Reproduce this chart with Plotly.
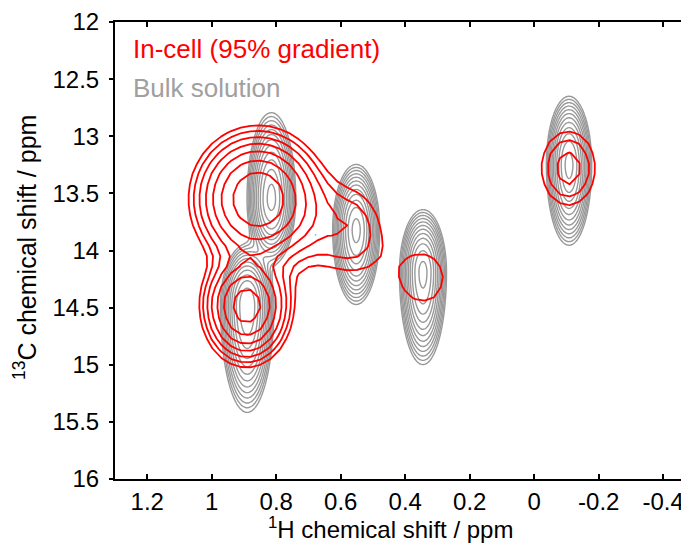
import numpy as np
import plotly.graph_objects as go

# ---- Bulk solution peaks (grey): 1H shift, 13C shift, widths, heights ----
bulk_h = [0.815, 0.890, 0.552, 0.345, -0.108, 0.678]
bulk_c = [13.55, 14.48, 13.82, 14.19, 13.25, 13.86]
bulk_width_h = [0.029, 0.031, 0.028, 0.028, 0.027, 0.008]
bulk_width_c_up = [0.29, 0.20, 0.22, 0.21, 0.23, 0.012]
bulk_width_c_down = [0.22, 0.35, 0.25, 0.31, 0.27, 0.012]
bulk_height = [30.0, 36.0, 30.0, 30.0, 30.0, 1.1]

# ---- In-cell peaks (red) ----
cell_h = [0.857, 0.892, 0.560, 0.345, -0.106, 0.680]
cell_c = [13.55, 14.48, 13.83, 14.24, 13.28, 13.85]
cell_width_h = [0.10, 0.07, 0.0735, 0.086, 0.065, 0.07]
cell_width_c_up = [0.30, 0.22, 0.30, 0.28, 0.25, 0.30]
cell_width_c_down = [0.30, 0.26, 0.30, 0.28, 0.25, 0.30]
cell_height = [10.2, 9.0, 1.66, 1.3, 2.3, 0.6]

# contour levels: base * factor**k
bulk_levels = dict(base=1.0, factor=1.35, count=14)
cell_levels = dict(base=1.0, factor=1.4, count=9)

x_ticks = [1.2, 1.0, 0.8, 0.6, 0.4, 0.2, 0.0, -0.2, -0.4]
x_tick_text = ["1.2", "1", "0.8", "0.6", "0.4", "0.2", "0", "-0.2", "-0.4"]
y_ticks = [12, 12.5, 13, 13.5, 14, 14.5, 15, 15.5, 16]
y_tick_text = ["12", "12.5", "13", "13.5", "14", "14.5", "15", "15.5", "16"]

legend_labels = ["In-cell (95% gradient)", "Bulk solution"]
x_title = "<sup>1</sup>H chemical shift / ppm"
y_title = "<sup>13</sup>C chemical shift / ppm"
RED = "#ff0000"
GREY = "#999999"


def spectrum(hs, cs, wh, wcu, wcd, amps, dx, dy):
    x = np.arange(-0.56, 1.40, dx)
    y = np.arange(11.8, 16.2, dy)
    X, Y = np.meshgrid(x, y)
    Z = np.zeros_like(X)
    for h0, c0, sh, su, sd, a in zip(hs, cs, wh, wcu, wcd, amps):
        sc = np.where(Y < c0, su, sd)
        Z += a * np.exp(-((X - h0) ** 2) / (2 * sh ** 2) - ((Y - c0) ** 2) / (2 * sc ** 2))
    return x, y, np.log(Z + 1e-12)


bx, by, bz = spectrum(bulk_h, bulk_c, bulk_width_h, bulk_width_c_up,
                      bulk_width_c_down, bulk_height, 0.004, 0.012)
cx, cy, cz = spectrum(cell_h, cell_c, cell_width_h, cell_width_c_up,
                      cell_width_c_down, cell_height, 0.03, 0.09)


def contour_trace(x, y, z, lv, color, width, smooth):
    step = np.log(lv["factor"])
    start = np.log(lv["base"])
    return go.Contour(
        x=x, y=y, z=z,
        contours=dict(start=start, end=start + step * (lv["count"] - 1),
                      size=step, coloring="none"),
        line=dict(color=color, width=width, smoothing=smooth),
        showscale=False, hoverinfo="skip", showlegend=False,
    )


fig = go.Figure()
fig.add_trace(contour_trace(bx, by, bz, bulk_levels, GREY, 1.4, 1.0))
fig.add_trace(contour_trace(cx, cy, cz, cell_levels, RED, 1.8, 0))

FONT = "Liberation Sans, Arial, Helvetica, sans-serif"
# the page body has an 8px margin: figure coordinates = page coordinates - 8
OFF = 8
W, H = 689 - OFF, 551 - OFF
L, T = 115 - OFF, 22 - OFF
BOTTOM = 479 - OFF
B = H - BOTTOM
PW, PH = W - L, BOTTOM - T


def px_x(p):
    return (p - OFF - L) / PW


def px_y(p):
    return (BOTTOM - (p - OFF)) / PH


fig.update_layout(
    width=W, height=H,
    margin=dict(l=L, r=0, t=T, b=B, autoexpand=False),
    paper_bgcolor="white", plot_bgcolor="white",
    font=dict(family=FONT, size=24, color="black"),
    xaxis=dict(
        range=[1.3, -0.48], tickvals=x_ticks, ticktext=x_tick_text,
        ticks="inside", ticklen=5, tickwidth=1.5, tickcolor="black",
        showline=True, linewidth=2, linecolor="black", mirror="ticks",
        showgrid=False, zeroline=False, automargin=False,
        tickfont=dict(size=24),
    ),
    yaxis=dict(
        range=[16, 12], tickvals=y_ticks, ticktext=y_tick_text,
        ticks="outside", ticklen=4, tickwidth=1.5, tickcolor="black",
        showline=True, linewidth=2, linecolor="black", mirror=False,
        showgrid=False, zeroline=False, automargin=False,
        tickfont=dict(size=24), ticklabelstandoff=5,
    ),
    annotations=[
        dict(xref="paper", yref="paper", x=px_x(131), y=px_y(49),
             xanchor="left", yanchor="middle", showarrow=False,
             text=legend_labels[0], font=dict(size=26, color=RED)),
        dict(xref="paper", yref="paper", x=px_x(131), y=px_y(88),
             xanchor="left", yanchor="middle", showarrow=False,
             text=legend_labels[1], font=dict(size=26, color="#a0a0a0")),
        dict(xref="paper", yref="paper", x=px_x(390), y=px_y(528),
             xanchor="center", yanchor="middle", showarrow=False,
             text=x_title, font=dict(size=24, color="black")),
        dict(xref="paper", yref="paper", x=px_x(25), y=px_y(248),
             xanchor="center", yanchor="middle", showarrow=False, textangle=-90,
             text=y_title, font=dict(size=25, color="black")),
    ],
)

fig.write_html("out.html")
